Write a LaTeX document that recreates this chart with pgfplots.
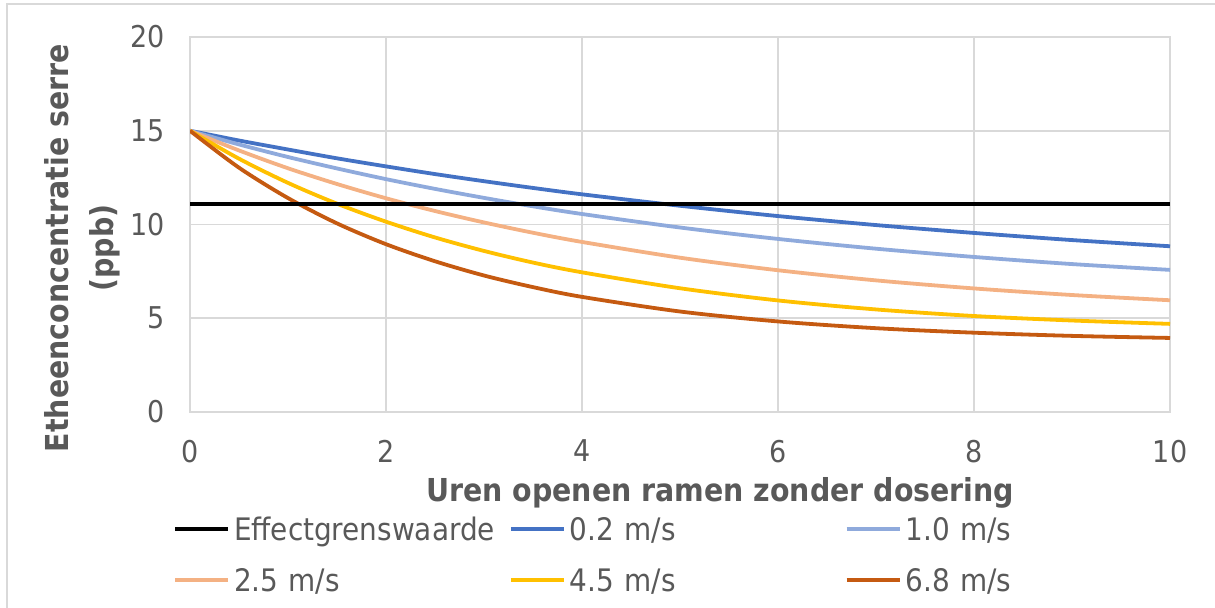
\documentclass[border=0pt]{standalone}
\usepackage{pgfplots}
\pgfplotsset{compat=1.18}
\usepackage{pgfplotstable}
\usepackage{fontspec}
\setmainfont{DejaVu Sans Condensed}

\definecolor{txt}{HTML}{595959}
\definecolor{gridc}{HTML}{D9D9D9}
\definecolor{s02}{HTML}{4472C4}
\definecolor{s10}{HTML}{8FAADC}
\definecolor{s25}{HTML}{F4B183}
\definecolor{s45}{HTML}{FFC000}
\definecolor{s68}{HTML}{C55A11}

% Etheenconcentratie (ppb) per windsnelheid
\pgfplotstableread{
x    b02   b10   b25   b45   b68
0    15.00 15.00 15.00 15.00 15.00
0.5  14.48 14.27 13.95 13.51 13.03
1    14.00 13.60 13.00 12.22 11.41
1.5  13.53 12.99 12.16 11.11 10.06
2    13.10 12.42 11.40 10.15 8.95
2.5  12.69 11.90 10.72 9.31  8.04
3    12.31 11.42 10.11 8.59  7.28
3.5  11.95 10.97 9.56  7.97  6.66
4    11.61 10.56 9.07  7.45  6.14
5    11.00 9.84  8.23  6.60  5.36
6    10.45 9.23  7.56  5.95  4.83
7    9.97  8.71  7.02  5.47  4.47
8    9.55  8.27  6.59  5.12  4.23
9    9.17  7.89  6.24  4.88  4.06
10   8.84  7.58  5.96  4.70  3.95
}\curves

\begin{document}
\begin{tikzpicture}
% chart area frame
\draw[gridc, line width=0.8bp] (3.5bp,-2bp) rectangle (800bp,-500bp);
\begin{axis}[
  at={(95bp,-206bp)}, anchor=south west,
  scale only axis, width=490bp, height=187.5bp,
  xmin=0, xmax=10, ymin=0, ymax=20,
  xtick={0,2,...,10}, ytick={0,5,...,20},
  grid=major,
  major grid style={gridc, line width=0.8bp},
  axis line style={gridc, line width=0.8bp},
  tick style={draw=none},
  /pgf/number format/assume math mode=true,
  ticklabel style={font=\fontsize{15bp}{18bp}\selectfont, text=txt},
  xticklabel style={yshift=-10.5bp},
  yticklabel style={xshift=-9bp},
  xlabel={Uren openen ramen zonder dosering},
  xlabel style={at={(axis description cs:0.541,-0.216)}, anchor=center,
    font=\bfseries\fontsize{15.8bp}{18bp}\selectfont, text=txt},
  ylabel={Etheenconcentratie serre\\(ppb)},
  ylabel style={at={(axis description cs:-0.1097,0.437)}, anchor=center,
    align=center,
    font=\bfseries\fontsize{15.8bp}{22.5bp}\selectfont, text=txt},
  legend columns=3,
  legend cell align=left,
  legend style={at={(axis description cs:-0.01735,-0.2827)}, anchor=north west,
    draw=none, fill=none, inner sep=0pt, outer sep=0pt,
    column sep=0pt, row sep=14.5bp,
    font=\fontsize{15.5bp}{18bp}\selectfont,
    nodes={inner xsep=2bp, inner ysep=0pt, text height=11bp, text depth=0pt,
      text width=135.5bp, text=txt}},
  legend image code/.code={\draw[#1] (0bp,0bp) -- (26.5bp,0bp);},
]
\addlegendimage{black, line width=2bp}
\addlegendentry{Effectgrenswaarde}
\addplot[s02, line width=1.9bp, smooth] table[x=x, y=b02] {\curves};
\addlegendentry{0.2 m/s}
\addplot[s10, line width=1.9bp, smooth] table[x=x, y=b10] {\curves};
\addlegendentry{1.0 m/s}
\addplot[s25, line width=1.9bp, smooth] table[x=x, y=b25] {\curves};
\addlegendentry{2.5 m/s}
\addplot[s45, line width=1.9bp, smooth] table[x=x, y=b45] {\curves};
\addlegendentry{4.5 m/s}
\addplot[s68, line width=1.9bp, smooth] table[x=x, y=b68] {\curves};
\addlegendentry{6.8 m/s}
% effect threshold
\addplot[black, line width=2bp, forget plot] coordinates {(0,11.1) (10,11.1)};
\end{axis}
\pgfresetboundingbox
\useasboundingbox (0,0) rectangle (607.5bp,-304bp);
\end{tikzpicture}
\end{document}
